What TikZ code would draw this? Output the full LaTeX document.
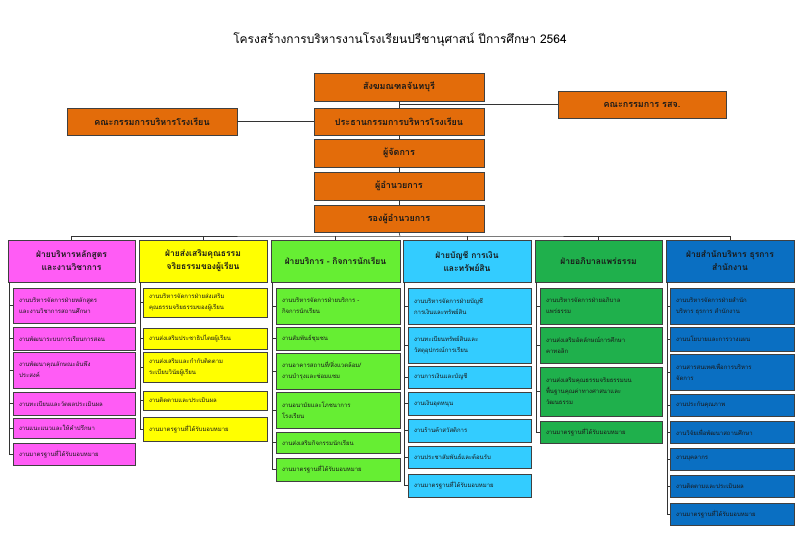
\documentclass[tikz,border=0pt]{standalone}
\usepackage{fontspec}
\setmainfont[Script=Thai]{Loma}
\begin{document}
\begin{tikzpicture}[x=1pt,y=-1pt,
  bx/.style={draw=black!75,line width=0.6pt,inner sep=1pt,text=black!90},
  top/.style={bx,fill=orng,font=\fontsize{9}{11}\selectfont\bfseries,align=center},
  hd/.style={bx,font=\fontsize{8.5}{13}\selectfont\bfseries,align=center},
  it/.style={bx,font=\fontsize{6}{11}\selectfont,align=left,inner xsep=5pt},
  ln/.style={black!80,line width=0.6pt}]
\definecolor{orng}{HTML}{E36C0A}
\definecolor{mag}{HTML}{FF5CF5}
\definecolor{yel}{HTML}{FFFF00}
\definecolor{lgr}{HTML}{66EE33}
\definecolor{cya}{HTML}{33CCFF}
\definecolor{dgr}{HTML}{1FB04C}
\definecolor{blu}{HTML}{0A6FC2}
\useasboundingbox (0,0) rectangle (800,554);
\newcommand{\bx}[7]{%
  \pgfmathsetmacro\cx{(#3+#5)/2}\pgfmathsetmacro\cy{(#4+#6)/2}%
  \pgfmathsetmacro\ww{#5-#3}\pgfmathsetmacro\hh{#6-#4}%
  \node[#2,minimum width=\ww pt,minimum height=\hh pt,text width=\ww pt-12pt] (#1) at (\cx,\cy) {#7};}
\node[font=\fontsize{12}{14}\selectfont] (title) at (400,40) {โครงสร้างการบริหารงานโรงเรียนปรีชานุศาสน์ ปีการศึกษา 2564};
\bx{t1}{top}{314}{73}{484}{101}{สังฆมณฑลจันทบุรี}
\bx{t2}{top}{314}{108}{484}{135}{ประธานกรรมการบริหารโรงเรียน}
\bx{t3}{top}{314}{139}{484}{167}{ผู้จัดการ}
\bx{t4}{top}{314}{172}{484}{200}{ผู้อำนวยการ}
\bx{t5}{top}{314}{205}{484}{232}{รองผู้อำนวยการ}
\bx{kl}{top}{67}{108}{237}{135}{คณะกรรมการบริหารโรงเรียน}
\bx{kr}{top}{558}{91}{726}{118}{คณะกรรมการ รสจ.}
\draw[ln] (t1) -- (t2) (t2) -- (t3) (t3) -- (t4) (t4) -- (t5);
\draw[ln] (kl.east) -- (t2.west);
\coordinate (j) at (400,104);
\draw[ln] (j) -- (j -| kr.west);
% headers
\bx{h1}{hd,fill=mag}{8}{240}{135}{282}{ฝ่ายบริหารหลักสูตร\\และงานวิชาการ}
\bx{h2}{hd,fill=yel}{139}{240}{267}{282}{ฝ่ายส่งเสริมคุณธรรม\\จริยธรรมของผู้เรียน}
\bx{h3}{hd,fill=lgr}{271}{240}{400}{282}{ฝ่ายบริการ - กิจการนักเรียน}
\bx{h4}{hd,fill=cya}{403}{240}{531}{282}{ฝ่ายบัญชี การเงิน\\และทรัพย์สิน}
\bx{h5}{hd,fill=dgr}{535}{240}{662}{282}{ฝ่ายอภิบาลแพร่ธรรม}
\bx{h6}{hd,fill=blu}{666}{240}{794}{282}{ฝ่ายสำนักบริหาร ธุรการ\\สำนักงาน}
\coordinate (bus) at (400,236);
\draw[ln] (t5.south) -- (bus);
\draw[ln] (h1.north) |- (bus) -| (h6.north);
\foreach \h in {h2,h3,h4,h5} \draw[ln] (\h.north) -- (\h.north |- bus);
% column 1
\bx{a1}{it,fill=mag}{13}{288}{135}{323}{งานบริหารจัดการฝ่ายหลักสูตร\\และงานวิชาการสถานศึกษา}
\bx{a2}{it,fill=mag}{13}{327}{135}{350}{งานพัฒนาระบบการเรียนการสอน}
\bx{a3}{it,fill=mag}{13}{352}{135}{388}{งานพัฒนาคุณลักษณะอันพึง\\ประสงค์}
\bx{a4}{it,fill=mag}{13}{392}{135}{415}{งานทะเบียนและวัดผลประเมินผล}
\bx{a5}{it,fill=mag}{13}{418}{135}{438}{งานแนะแนวและให้คำปรึกษา}
\bx{a6}{it,fill=mag}{13}{443}{135}{465}{งานมาตรฐานที่ได้รับมอบหมาย}
% column 2
\bx{b1}{it,fill=yel}{143}{288}{267}{317}{งานบริหารจัดการฝ่ายส่งเสริม\\คุณธรรมจริยธรรมของผู้เรียน}
\bx{b2}{it,fill=yel}{143}{328}{267}{349}{งานส่งเสริมประชาธิปไตยผู้เรียน}
\bx{b3}{it,fill=yel}{143}{352}{267}{382}{งานส่งเสริมและกำกับติดตาม\\ระเบียบวินัยผู้เรียน}
\bx{b4}{it,fill=yel}{143}{391}{267}{410}{งานติดตามและประเมินผล}
\bx{b5}{it,fill=yel}{143}{417}{267}{441}{งานมาตรฐานที่ได้รับมอบหมาย}
% column 3
\bx{c1}{it,fill=lgr}{276}{288}{400}{324}{งานบริหารจัดการฝ่ายบริการ -\\กิจการนักเรียน}
\bx{c2}{it,fill=lgr}{276}{327}{400}{350}{งานสัมพันธ์ชุมชน}
\bx{c3}{it,fill=lgr}{276}{353}{400}{389}{งานอาคารสถานที่/สิ่งแวดล้อม/\\งานบำรุงและซ่อมแซม}
\bx{c4}{it,fill=lgr}{276}{392}{400}{428}{งานอนามัยและโภชนาการ\\โรงเรียน}
\bx{c5}{it,fill=lgr}{276}{432}{400}{453}{งานส่งเสริมกิจกรรมนักเรียน}
\bx{c6}{it,fill=lgr}{276}{458}{400}{481}{งานมาตรฐานที่ได้รับมอบหมาย}
% column 4
\bx{d1}{it,fill=cya}{408}{288}{531}{324}{งานบริหารจัดการฝ่ายบัญชี\\การเงินและทรัพย์สิน}
\bx{d2}{it,fill=cya}{408}{327}{531}{363}{งานทะเบียนทรัพย์สินและ\\วัสดุอุปกรณ์การเรียน}
\bx{d3}{it,fill=cya}{408}{366}{531}{388}{งานการเงินและบัญชี}
\bx{d4}{it,fill=cya}{408}{392}{531}{415}{งานเงินอุดหนุน}
\bx{d5}{it,fill=cya}{408}{419}{531}{442}{งานร้านค้าสวัสดิการ}
\bx{d6}{it,fill=cya}{408}{446}{531}{468}{งานประชาสัมพันธ์และต้อนรับ}
\bx{d7}{it,fill=cya}{408}{474}{531}{497}{งานมาตรฐานที่ได้รับมอบหมาย}
% column 5
\bx{e1}{it,fill=dgr}{540}{288}{662}{324}{งานบริหารจัดการฝ่ายอภิบาล\\แพร่ธรรม}
\bx{e2}{it,fill=dgr}{540}{327}{662}{363}{งานส่งเสริมอัตลักษณ์การศึกษา\\คาทอลิก}
\bx{e3}{it,fill=dgr}{540}{367}{662}{416}{งานส่งเสริมคุณธรรมจริยธรรมบน\\พื้นฐานคุณค่าทางศาสนาและ\\วัฒนธรรม}
\bx{e4}{it,fill=dgr}{540}{421}{662}{443}{งานมาตรฐานที่ได้รับมอบหมาย}
% column 6
\bx{f1}{it,fill=blu}{670}{288}{794}{324}{งานบริหารจัดการฝ่ายสำนัก\\บริหาร ธุรการ สำนักงาน}
\bx{f2}{it,fill=blu}{670}{327}{794}{351}{งานนโยบายและการวางแผน}
\bx{f3}{it,fill=blu}{670}{354}{794}{390}{งานสารสนเทศเพื่อการบริหาร\\จัดการ}
\bx{f4}{it,fill=blu}{670}{394}{794}{416}{งานประกันคุณภาพ}
\bx{f5}{it,fill=blu}{670}{421}{794}{443}{งานวิจัยเพื่อพัฒนาสถานศึกษา}
\bx{f6}{it,fill=blu}{670}{448}{794}{470}{งานบุคลากร}
\bx{f7}{it,fill=blu}{670}{475}{794}{497}{งานติดตามและประเมินผล}
\bx{f8}{it,fill=blu}{670}{503}{794}{525}{งานมาตรฐานที่ได้รับมอบหมาย}
% column connectors
\newcommand{\col}[3]{%
  \coordinate (v#1) at ([xshift=2pt]h#1.south west);
  \draw[ln] (v#1) |- (#2#3.west);
  \foreach \k in {1,...,#3} \draw[ln] (#2\k.west) -- (#2\k.west -| v#1);}
\col{1}{a}{6}
\col{2}{b}{5}
\col{3}{c}{6}
\col{4}{d}{7}
\col{5}{e}{4}
\col{6}{f}{8}
\end{tikzpicture}
\end{document}
